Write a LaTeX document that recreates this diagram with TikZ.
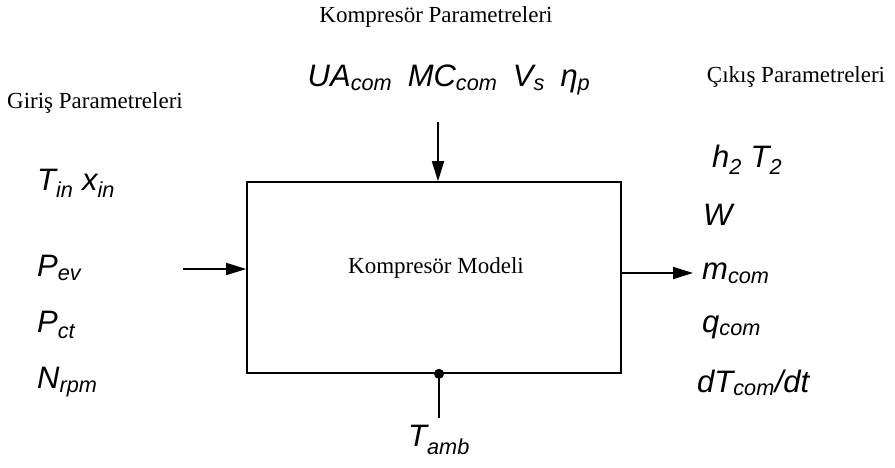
\documentclass[tikz,border=0pt]{standalone}
\usepackage{fontspec}
\setmainfont{Liberation Serif}
\newfontfamily\varfont{Liberation Sans}
\usetikzlibrary{arrows.meta,positioning}

\begin{document}
\begin{tikzpicture}[
    x=1pt, y=-1pt,
    modelbox/.style={rectangle, draw, line width=1.6pt, minimum width=374pt, minimum height=191pt, inner sep=0pt},
    title/.style={font=\fontsize{23}{27}\selectfont, inner sep=0pt},
    var/.style={font=\varfont\itshape\fontsize{31}{36}\selectfont, inner sep=0pt, anchor=west},
    arrow/.style={-{Triangle[length=20pt,width=12pt]}, line width=1.6pt}
]
    \useasboundingbox (0,0) rectangle (895,468);

    % block
    \node[modelbox] (model) at (434,277.5) {};
    \node[title] (modeltext) at (436,268) {Kompresör Modeli};

    % headings
    \node[title] (comptitle) at (436,17) {Kompresör Parametreleri};
    \node[title] (intitle) at (95,103) {Giriş Parametreleri};
    \node[title] (outtitle) at (796,77) {Çıkış Parametreleri};

    % compressor parameters
    \node[var, anchor=center] (comppar) at (449,80) {UA\textsubscript{com}\enspace MC\textsubscript{com}\enspace V\textsubscript{s}\enspace η\textsubscript{p}};

    % inputs
    \node[var] (tin) at (37,183) {T\textsubscript{in} x\textsubscript{in}};
    \node[var] (pev) at (37,268) {P\textsubscript{ev}};
    \node[var] (pct) at (37,325) {P\textsubscript{ct}};
    \node[var] (nrpm) at (37,382) {N\textsubscript{rpm}};

    % outputs
    \node[var] (h2) at (712,160) {h\textsubscript{2} T\textsubscript{2}};
    \node[var] (w) at (703,215) {W};
    \node[var] (mcom) at (702,273) {m\textsubscript{com}};
    \node[var] (qcom) at (702,327) {q\textsubscript{com}};
    \node[var] (dtcom) at (697,383) {dT\textsubscript{com}/dt};

    % ambient
    \node[var, anchor=center] (tamb) at (439,440) {T\textsubscript{amb}};

    % connectors
    \coordinate (inend) at (183,269);
    \coordinate (outend) at (693,273);
    \coordinate (topend) at (438,122);
    \coordinate (botend) at (439,418);
    \draw[arrow] (inend) -- (inend -| model.west);
    \draw[arrow] (outend -| model.east) -- (outend);
    \draw[arrow] (topend) -- (topend |- model.north);
    \draw[line width=1.6pt] (botend |- model.south) -- (botend);
    \fill (botend |- model.south) circle (5pt);
\end{tikzpicture}
\end{document}
